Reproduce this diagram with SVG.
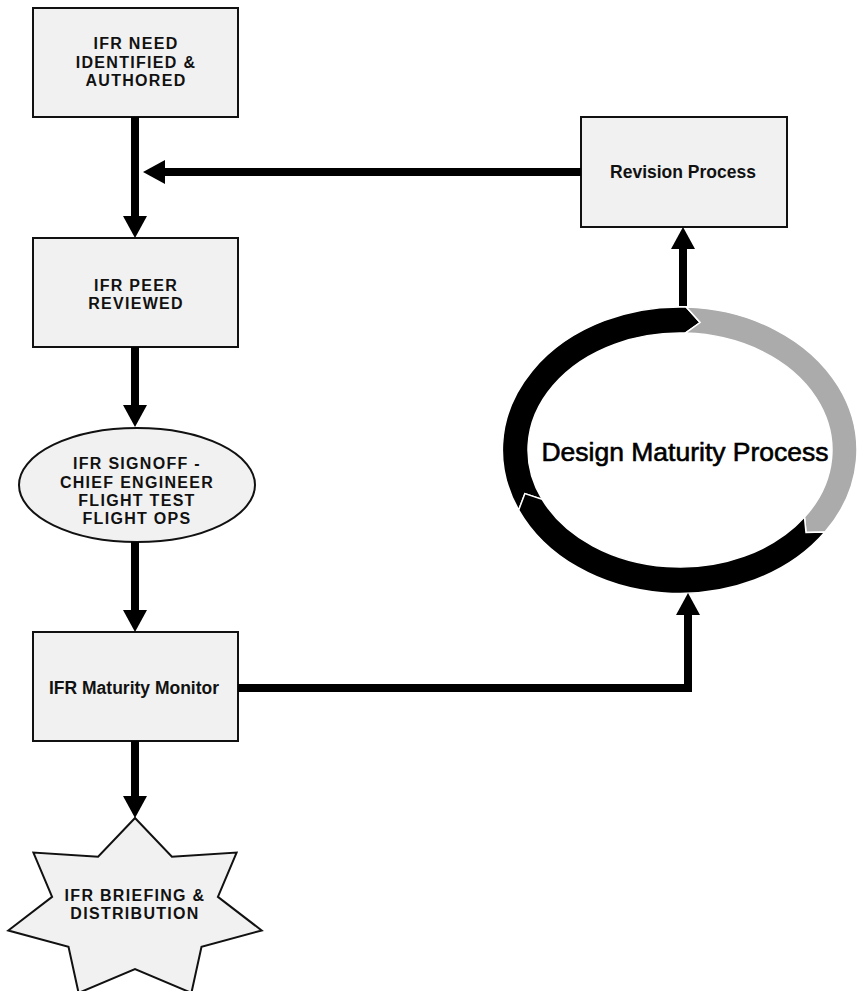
<svg xmlns="http://www.w3.org/2000/svg" width="857" height="991" viewBox="0 0 857 991">
<style>
.node{fill:#f1f1f1;stroke:#111;stroke-width:2}
.lbl{font-family:"Liberation Sans",Arial,sans-serif;font-weight:bold;font-size:16px;letter-spacing:1.3px;fill:#111;text-anchor:middle}
.lbl2{font-family:"Liberation Sans",Arial,sans-serif;font-weight:bold;font-size:17.5px;fill:#111;text-anchor:middle}
.conn{fill:none;stroke:#000;stroke-width:8;stroke-linejoin:miter}
.seg{stroke:#fff;stroke-width:1.5;stroke-linejoin:miter}
</style>
<defs>
<marker id="ah" markerUnits="userSpaceOnUse" viewBox="0 0 22 24" markerWidth="22" markerHeight="24" refX="0" refY="12" orient="auto">
<path d="M0,0 L22,12 L0,24 Z" fill="#000"/>
</marker>
</defs>
<rect width="857" height="991" fill="#fff"/>

<g id="need">
<rect class="node" x="33" y="8" width="205" height="109"/>
<text class="lbl" x="136" y="49">IFR NEED</text>
<text class="lbl" x="136" y="68">IDENTIFIED &amp;</text>
<text class="lbl" x="136" y="86">AUTHORED</text>
</g>

<g id="revision">
<rect class="node" x="581" y="117" width="206" height="110"/>
<text class="lbl2" x="683" y="178">Revision Process</text>
</g>

<g id="peer">
<rect class="node" x="33" y="238" width="205" height="109"/>
<text class="lbl" x="136" y="291">IFR PEER</text>
<text class="lbl" x="136" y="309">REVIEWED</text>
</g>

<g id="signoff">
<ellipse class="node" cx="137" cy="485" rx="118" ry="57"/>
<text class="lbl" x="137" y="469">IFR SIGNOFF -</text>
<text class="lbl" x="137" y="488">CHIEF ENGINEER</text>
<text class="lbl" x="137" y="506">FLIGHT TEST</text>
<text class="lbl" x="137" y="524">FLIGHT OPS</text>
</g>

<g id="monitor">
<rect class="node" x="33" y="632" width="205" height="109"/>
<text class="lbl2" x="134" y="694">IFR Maturity Monitor</text>
</g>

<g id="briefing">
<polygon class="node" points="135,818 171.9,856.8 236.6,852.6 217.9,896.9 261.7,930.5 201.5,946.8 191.4,992.9 135,969 78.6,992.9 68.5,946.8 8.3,930.5 52.1,896.9 33.4,852.6 98.1,856.8"/>
<text class="lbl" x="135" y="901">IFR BRIEFING &amp;</text>
<text class="lbl" x="135" y="919">DISTRIBUTION</text>
</g>

<g id="design-maturity">
<path class="seg" fill="#000" d="M518.7,510.0 A177 143 0 0 1 686.2,307.1 L700.1,322.5 L685.3,333.1 A152 117 0 0 0 542.2,499.4 L524.9,493.6 Z"/>
<path class="seg" fill="#ababab" d="M686.2,307.1 A177 143 0 0 1 825.0,532.0 L806.0,532.4 L804.5,517.1 A152 117 0 0 0 685.3,333.1 L700.1,322.5 Z"/>
<path class="seg" fill="#000" d="M825.0,532.0 A177 143 0 0 1 518.7,510.0 L524.9,493.6 L542.2,499.4 A152 117 0 0 0 804.5,517.1 L806.0,532.4 Z"/>
<text x="685" y="461" font-family="'Liberation Sans',Arial,sans-serif" font-size="26.5" fill="#000" stroke="#000" stroke-width="0.6" text-anchor="middle">Design Maturity Process</text>
</g>

<g id="connectors">
<line class="conn" x1="135" y1="117" x2="135" y2="216" marker-end="url(#ah)"/>
<line class="conn" x1="581" y1="172" x2="165" y2="172" marker-end="url(#ah)"/>
<line class="conn" x1="135" y1="347" x2="135" y2="405" marker-end="url(#ah)"/>
<line class="conn" x1="135" y1="542" x2="135" y2="610" marker-end="url(#ah)"/>
<line class="conn" x1="135" y1="741" x2="135" y2="796" marker-end="url(#ah)"/>
<polyline class="conn" points="238,688 688,688 688,615" marker-end="url(#ah)"/>
<line class="conn" x1="683" y1="306" x2="683" y2="249" marker-end="url(#ah)"/>
</g>
</svg>
